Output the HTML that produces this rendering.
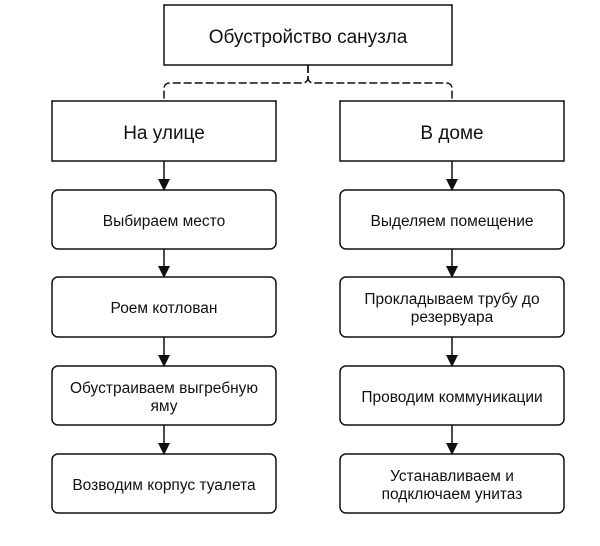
<!DOCTYPE html>
<html><head><meta charset="utf-8"><style>
body{margin:0;background:#fff;}
svg text{font-family:"Liberation Sans",Arial,sans-serif;fill:#111;text-anchor:middle;}
</style></head><body>
<svg width="600" height="541" xmlns="http://www.w3.org/2000/svg">
<defs><marker id="a" markerWidth="12" markerHeight="12" refX="11" refY="6" orient="auto" markerUnits="userSpaceOnUse"><path d="M0,0 L12,6 L0,12 z" fill="#111"/></marker></defs>
<g fill="none" stroke="#111" stroke-width="1.5">
<rect x="164" y="5" width="288" height="60"/>
<path d="M308,65 V77 Q308,83 302,83 H170 Q164,83 164,89 V101" stroke-dasharray="8,3"/>
<path d="M308,65 V77 Q308,83 314,83 H446 Q452,83 452,89 V101" stroke-dasharray="8,3"/>
<rect x="52" y="101" width="224" height="60"/>
<rect x="340" y="101" width="224" height="60"/>
<rect x="52" y="190" width="224" height="59" rx="6"/>
<rect x="340" y="190" width="224" height="59" rx="6"/>
<rect x="52" y="277" width="224" height="60" rx="6"/>
<rect x="340" y="277" width="224" height="60" rx="6"/>
<rect x="52" y="366" width="224" height="59" rx="6"/>
<rect x="340" y="366" width="224" height="59" rx="6"/>
<rect x="52" y="454" width="224" height="59" rx="6"/>
<rect x="340" y="454" width="224" height="59" rx="6"/>
<path d="M164,161 V190" marker-end="url(#a)"/>
<path d="M164,249 V277" marker-end="url(#a)"/>
<path d="M164,337 V366" marker-end="url(#a)"/>
<path d="M164,425 V454" marker-end="url(#a)"/>
<path d="M452,161 V190" marker-end="url(#a)"/>
<path d="M452,249 V277" marker-end="url(#a)"/>
<path d="M452,337 V366" marker-end="url(#a)"/>
<path d="M452,425 V454" marker-end="url(#a)"/>
</g>
<text x="308" y="43" font-size="19">Обустройство санузла</text>
<text x="164" y="139" font-size="19">На улице</text>
<text x="452" y="139" font-size="19">В доме</text>
<g font-size="15.5">
<text x="164" y="226">Выбираем место</text>
<text x="452" y="226">Выделяем помещение</text>
<text x="164" y="313">Роем котлован</text>
<text x="452" y="304">Прокладываем трубу до</text>
<text x="452" y="322">резервуара</text>
<text x="164" y="393">Обустраиваем выгребную</text>
<text x="164" y="411">яму</text>
<text x="452" y="402">Проводим коммуникации</text>
<text x="164" y="490">Возводим корпус туалета</text>
<text x="452" y="481">Устанавливаем и</text>
<text x="452" y="499">подключаем унитаз</text>
</g>
</svg>
</body></html>
